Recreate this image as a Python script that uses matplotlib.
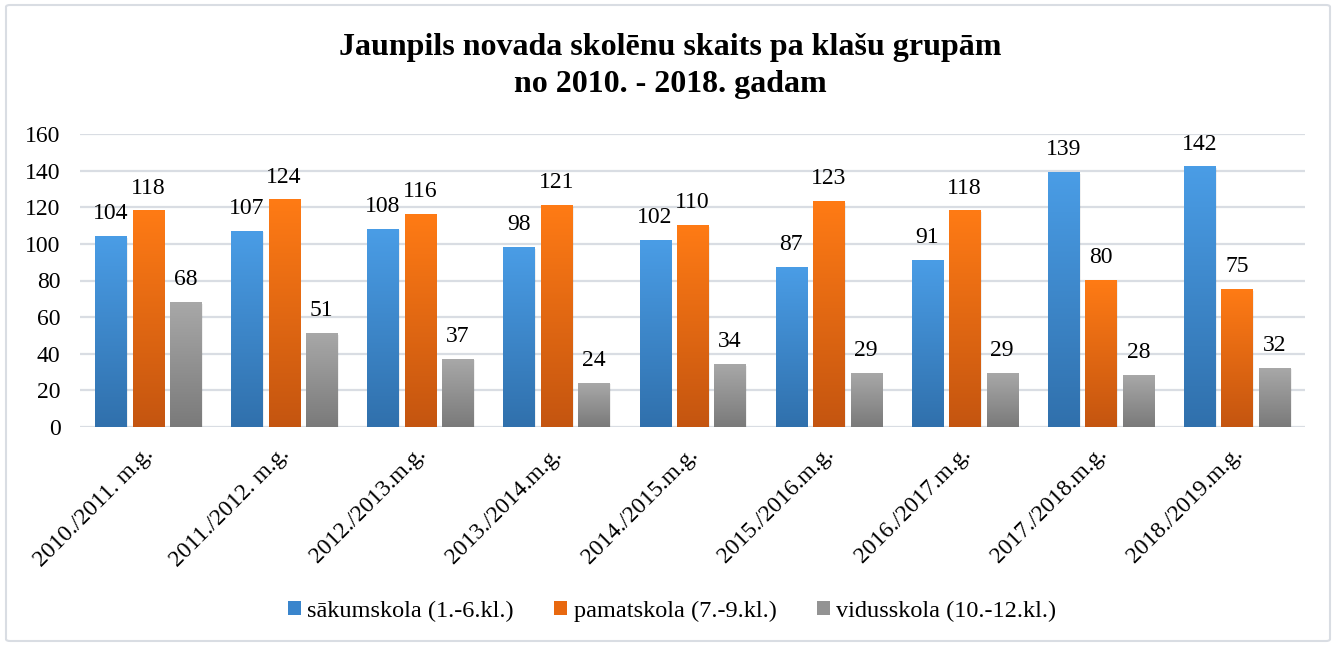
import matplotlib
matplotlib.use("Agg")
import matplotlib.pyplot as plt
import matplotlib.transforms as mtransforms
import numpy as np
from matplotlib.colors import LinearSegmentedColormap
from matplotlib.patches import FancyBboxPatch, Patch

categories = ["2010./2011. m.g.", "2011./2012. m.g.", "2012./2013.m.g.", "2013./2014.m.g.",
              "2014./2015.m.g.", "2015./2016.m.g.", "2016./2017.m.g.", "2017./2018.m.g.",
              "2018./2019.m.g."]
sakumskola = [104, 107, 108, 98, 102, 87, 91, 139, 142]
pamatskola = [118, 124, 116, 121, 110, 123, 118, 80, 75]
vidusskola = [68, 51, 37, 24, 34, 29, 29, 28, 32]
series_names = ["sākumskola (1.-6.kl.)", "pamatskola (7.-9.kl.)", "vidusskola (10.-12.kl.)"]
title = "Jaunpils novada skolēnu skaits pa klašu grupām\nno 2010. - 2018. gadam"

grads = [("#4A9DE6", "#3070AC"), ("#FF7B15", "#C45510"), ("#A8A8A8", "#7A7A7A")]

plt.rcParams['font.family'] = ['Liberation Serif', 'DejaVu Serif']

fig = plt.figure(figsize=(13.36, 6.46), dpi=100)
ax = fig.add_axes([80/1336, 1-427/646, (1305-80)/1336, (427-134)/646])

x = np.arange(len(categories))
w = 0.228
offs = [-0.275, 0, 0.275]
data = [sakumskola, pamatskola, vidusskola]

ax.set_xlim(-0.5, len(categories)-0.5)
ax.set_ylim(0, 160)

grad = np.linspace(1, 0, 256).reshape(-1, 1)
for vals, off, (top, bot), name in zip(data, offs, grads, series_names):
    cmap = LinearSegmentedColormap.from_list("g", [bot, top])
    bars = ax.bar(x + off, vals, w, color="none", edgecolor="none", label=name, zorder=3)
    for b, v in zip(bars, vals):
        x0, y0 = b.get_x(), b.get_y()
        bw, bh = b.get_width(), b.get_height()
        ax.bar(x0 + bw/2 + 0.012, bh, bw, bottom=-0.6, color="#000000", alpha=0.06, zorder=2)
        ax.imshow(grad, extent=[x0, x0+bw, y0, y0+bh], aspect='auto', cmap=cmap,
                  vmin=0, vmax=1, zorder=3, interpolation='bilinear')
        ax.text(x0 + bw/2, bh + 9.5, str(v), ha='center', va='baseline', fontsize=17,
                color='#000000', zorder=4)

ax.set_xlim(-0.5, len(categories)-0.5)
ax.set_ylim(0, 160)
ax.set_yticks(np.arange(0, 161, 20))
ax.yaxis.grid(True, color="#D9DDE3", lw=1.6, zorder=0)
ax.set_axisbelow(True)
for s in ax.spines.values():
    s.set_visible(False)
ax.tick_params(axis='both', length=0, labelsize=17, colors='#000000')
ax.tick_params(axis='y', pad=14)
ax.set_xticks(x)
ax.set_xticklabels(categories, rotation=45, ha='right', rotation_mode='anchor', fontsize=17)
ax.tick_params(axis='x', pad=12)
shift = mtransforms.ScaledTranslation(-5/100, 0, fig.dpi_scale_trans)
for lbl in ax.get_xticklabels():
    lbl.set_transform(lbl.get_transform() + shift)

handles = [Patch(facecolor="#3A85CC"), Patch(facecolor="#E8680F"), Patch(facecolor="#939393")]
fig.legend(handles, series_names, loc='center', bbox_to_anchor=(672/1336, 1-611/646), ncol=3,
           frameon=False, fontsize=17.5, handlelength=0.55, handleheight=0.55, handletextpad=0.25,
           columnspacing=1.65)

fig.text(670/1336, 1-66/646, title, ha='center', va='center', fontsize=23, fontweight='bold',
         linespacing=1.38)

border = FancyBboxPatch((6/1336, 5/646), 1324/1336, 636/646, boxstyle="round,pad=0,rounding_size=0.003",
                        transform=fig.transFigure, fill=False, edgecolor="#D9DDE3", lw=1.5)
fig.patches.append(border)

fig.savefig("out.png", dpi=100)
